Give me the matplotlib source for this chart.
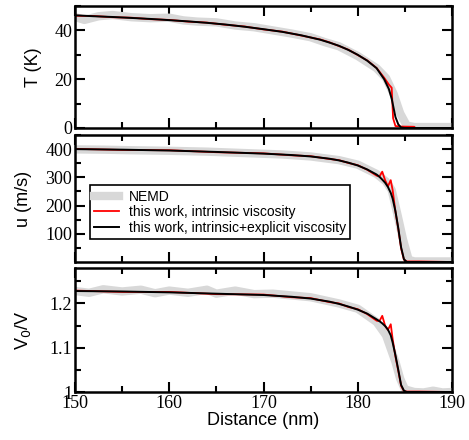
import matplotlib
matplotlib.use("Agg")
import matplotlib.pyplot as plt
from matplotlib.lines import Line2D
from matplotlib.ticker import MultipleLocator, FixedLocator

# ---- data ----
# temperature panel
x_T = [150, 152, 154, 156, 158, 160, 162, 164, 166, 168, 170, 172, 174, 176, 177, 178,
       179, 180, 181, 182, 182.8, 183.3, 183.6, 184.0, 184.3, 184.6, 185.0, 186.5, 190]
T_black = [46.2, 45.8, 45.5, 45.1, 44.7, 44.2, 43.7, 43.1, 42.4, 41.5, 40.5, 39.4, 38.0, 36.2,
           35.0, 33.7, 32.0, 30.0, 27.6, 24.5, 20.0, 16.0, 12.0, 4.5, 1.5, 0.2, 0.0, 0.0, 0.0]
x_T_red = [150, 152, 154, 156, 158, 160, 162, 164, 166, 168, 170, 172, 174, 176, 177, 178,
           179, 180, 181, 182, 182.8, 183.3, 183.6, 183.75, 184.0, 184.5, 186.0, 186.1]
T_red = [46.0, 45.9, 45.4, 45.2, 44.6, 44.3, 43.6, 43.2, 42.3, 41.6, 40.4, 39.5, 37.9, 36.3,
         35.1, 33.6, 32.1, 29.9, 27.7, 24.6, 20.6, 17.8, 16.5, 4.0, 0.8, 0.6, 0.5, 0.0]
x_T_nemd = [150, 151, 152.5, 154, 156, 158, 160, 161.5, 163, 165, 167, 169, 171, 173, 175,
            176.5, 178, 180, 182, 183, 183.8, 184.5, 185.2, 186, 188, 190]
T_nemd = [45.5, 44.3, 45.8, 46.3, 45.4, 45.0, 45.2, 44.1, 43.6, 43.3, 42.0, 41.3, 40.0, 38.7,
          37.2, 35.2, 33.5, 29.5, 24.5, 20.5, 14.0, 6.0, 1.0, 0.4, 0.4, 0.4]

# velocity panel
x_u = [150, 155, 160, 165, 170, 173, 175, 177, 178, 179, 180, 181, 182, 182.3, 182.6,
       182.9, 183.2, 183.5, 183.7, 184.0, 184.3, 184.6, 184.9, 185.2, 186.5, 190]
u_black = [400, 398, 395, 390, 384, 379, 374, 366, 360, 352, 342, 328, 310, 302, 292,
           281, 266, 245, 225, 180, 120, 52, 10, 0, 0, 0]
u_red = [401, 397, 396, 389, 385, 378, 375, 365, 361, 351, 343, 327, 306, 303, 320,
         290, 268, 290, 255, 178, 118, 48, 8, 2, 2, 0]
x_u_nemd = [150, 153, 156, 160, 164, 168, 172, 175, 178, 180, 182, 183, 183.6, 184.2,
            184.8, 185.4, 186, 190]
u_nemd = [399, 398, 396, 394, 391, 386, 381, 374, 361, 345, 312, 285, 255, 170, 80, 8, 2, 2]

# specific-volume ratio panel
x_v = [150, 155, 160, 165, 170, 173, 175, 177, 178, 179, 180, 181, 182, 182.3, 182.6,
       182.9, 183.2, 183.5, 183.7, 184.0, 184.3, 184.6, 184.9, 185.2, 186.5, 190]
v_black = [1.228, 1.227, 1.225, 1.222, 1.219, 1.215, 1.211, 1.204, 1.199, 1.193, 1.186,
           1.177, 1.164, 1.160, 1.155, 1.149, 1.141, 1.128, 1.112, 1.083, 1.050, 1.016,
           1.003, 1.000, 1.000, 1.000]
v_red = [1.229, 1.226, 1.226, 1.221, 1.220, 1.214, 1.212, 1.203, 1.200, 1.192, 1.187,
         1.176, 1.161, 1.160, 1.172, 1.150, 1.140, 1.153, 1.120, 1.080, 1.048, 1.014,
         1.002, 1.001, 1.001, 1.000]
x_v_nemd = [150, 151.5, 153, 155, 157, 158.5, 160, 162, 164, 165, 167, 169, 171, 175, 178,
            180, 182, 183, 184, 184.5, 185, 186, 187, 188, 189, 190]
v_nemd = [1.228, 1.224, 1.232, 1.227, 1.231, 1.223, 1.229, 1.224, 1.231, 1.222, 1.229,
          1.221, 1.222, 1.214, 1.200, 1.188, 1.158, 1.128, 1.068, 1.030, 1.006, 1.000,
          0.999, 1.003, 0.999, 1.000]

legend_labels = ["NEMD", "this work, intrinsic viscosity",
                 "this work, intrinsic+explicit viscosity"]

# ---- figure ----
W, H = 469, 440
fig = plt.figure(figsize=(W / 100, H / 100), dpi=100)

def px_axes(left, top, right, bottom):
    return fig.add_axes([left / W, 1 - bottom / H, (right - left) / W, (bottom - top) / H])

grey = "#d8d8d8"
serif = "Liberation Serif"
sans = "Liberation Sans"

def style(ax, ylab, labx):
    ax.set_xlim(150, 190)
    ax.xaxis.set_major_locator(MultipleLocator(10))
    ax.xaxis.set_minor_locator(MultipleLocator(5))
    ax.tick_params(which="both", direction="in", top=True, right=True, width=1.5)
    ax.tick_params(which="major", length=7, labelsize=13, pad=2)
    ax.tick_params(which="minor", length=4.5)
    for lab in ax.get_xticklabels() + ax.get_yticklabels():
        lab.set_fontfamily(serif)
    for s in ax.spines.values():
        s.set_linewidth(1.8)
    ax.set_ylabel(ylab, fontfamily=sans, fontsize=13)
    ax.yaxis.set_label_coords(labx, 0.5)

ax1 = px_axes(75, 6, 452, 128)
ax2 = px_axes(75, 135, 452, 262)
ax3 = px_axes(75, 268, 452, 392)

# panel 1
ax1.plot(x_T_nemd, T_nemd, color=grey, lw=6, solid_capstyle="round")
ax1.plot(x_T_red, T_red, color="red", lw=1.3)
ax1.plot(x_T, T_black, color="black", lw=1.4)
ax1.set_ylim(0, 50)
ax1.yaxis.set_major_locator(FixedLocator([0, 20, 40]))
ax1.yaxis.set_minor_locator(FixedLocator([10, 30, 50]))
ax1.set_xticklabels([])
style(ax1, "T (K)", -0.088)

# panel 2
ax2.plot(x_u_nemd, u_nemd, color=grey, lw=6, solid_capstyle="round")
ax2.plot(x_u, u_red, color="red", lw=1.3)
ax2.plot(x_u, u_black, color="black", lw=1.4)
ax2.set_ylim(0, 450)
ax2.yaxis.set_major_locator(FixedLocator([100, 200, 300, 400]))
ax2.yaxis.set_minor_locator(FixedLocator([50, 150, 250, 350, 450]))
ax2.set_xticklabels([])
style(ax2, "u (m/s)", -0.114)

handles = [Line2D([], [], color=grey, lw=6),
           Line2D([], [], color="red", lw=1.3),
           Line2D([], [], color="black", lw=1.4)]
leg = ax2.legend(handles, legend_labels, loc="lower left", bbox_to_anchor=(0.04, 0.18),
                 borderaxespad=0, fancybox=False, framealpha=1, edgecolor="black",
                 prop={"family": sans, "size": 10}, handlelength=1.8,
                 labelspacing=0.12, borderpad=0.3, handletextpad=0.7)
leg.get_frame().set_linewidth(1.2)

# panel 3
ax3.plot(x_v_nemd, v_nemd, color=grey, lw=6, solid_capstyle="round")
ax3.plot(x_v, v_red, color="red", lw=1.3)
ax3.plot(x_v, v_black, color="black", lw=1.4)
ax3.set_ylim(1.0, 1.28)
ax3.yaxis.set_major_locator(FixedLocator([1.0, 1.1, 1.2]))
ax3.yaxis.set_minor_locator(FixedLocator([1.05, 1.15, 1.25]))
ax3.set_yticklabels(["1", "1.1", "1.2"])
style(ax3, "V$_0$/V", -0.111)
ax3.set_xlabel("Distance (nm)", fontfamily=sans, fontsize=13, labelpad=0)

fig.savefig("out.png", dpi=100)
